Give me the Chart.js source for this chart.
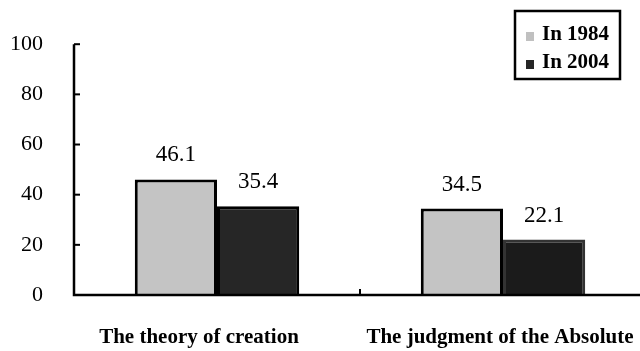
<!DOCTYPE html>
<html>
<head>
<meta charset="utf-8">
<script src="https://cdn.jsdelivr.net/npm/chart.js@4/dist/chart.umd.min.js"></script>
<style>
  html, body { margin: 0; padding: 0; background: #fff; overflow: hidden; }
  #wrap { width: 660px; height: 351px; }
</style>
</head>
<body>
<div id="wrap"><canvas id="beliefChart" width="660" height="351"></canvas></div>
<script>
// values per category
const categories = ['The theory of creation', 'The judgment of the Absolute'];
const in1984 = [46.1, 34.5];
const in2004 = [35.4, 22.1];
const yTicks = [0, 20, 40, 60, 80, 100];

const serif = '"Liberation Serif", "Times New Roman", serif';

// axis lines, inner ticks and the middle category tick
const axesPlugin = {
  id: 'axes',
  afterDatasetsDraw(chart) {
    const { ctx, chartArea: a, scales: { x, y } } = chart;
    ctx.save();
    ctx.strokeStyle = '#000';
    ctx.lineWidth = 2.5;
    ctx.beginPath();
    ctx.moveTo(a.left, a.top);
    ctx.lineTo(a.left, a.bottom);
    ctx.lineTo(a.right, a.bottom);
    ctx.stroke();
    ctx.lineWidth = 2;
    yTicks.forEach(v => {
      const py = y.getPixelForValue(v);
      ctx.beginPath();
      ctx.moveTo(a.left, py);
      ctx.lineTo(a.left + 6, py);
      ctx.stroke();
    });
    const mid = (x.getPixelForValue(0) + x.getPixelForValue(1)) / 2;
    ctx.beginPath();
    ctx.moveTo(mid, a.bottom);
    ctx.lineTo(mid, a.bottom - 6);
    ctx.stroke();

    // category names under the axis, the first one sits a bit left
    ctx.font = 'bold 21px ' + serif;
    ctx.fillStyle = '#000';
    ctx.textAlign = 'center';
    ctx.textBaseline = 'middle';
    const shift = [-18, -3];
    categories.forEach((c, i) => {
      ctx.fillText(c, x.getPixelForValue(i) + shift[i], a.bottom + 43);
    });
    ctx.restore();
  }
};

// numbers over the bars
const valueLabels = {
  id: 'valueLabels',
  afterDatasetsDraw(chart) {
    const { ctx } = chart;
    ctx.save();
    ctx.font = '23px ' + serif;
    ctx.fillStyle = '#000';
    ctx.textAlign = 'center';
    ctx.textBaseline = 'middle';
    chart.data.datasets.forEach((ds, i) => {
      chart.getDatasetMeta(i).data.forEach((bar, j) => {
        ctx.fillText(ds.data[j].toFixed(1), bar.x, bar.y - 24);
      });
    });
    ctx.restore();
  }
};

// boxed legend in the top right corner
const boxLegend = {
  id: 'boxLegend',
  afterDraw(chart) {
    const { ctx } = chart;
    const left = 515, top = 11, w = 105, h = 68;
    ctx.save();
    ctx.strokeStyle = '#000';
    ctx.lineWidth = 2.5;
    ctx.strokeRect(left, top, w, h);
    ctx.font = 'bold 21px ' + serif;
    ctx.textBaseline = 'middle';
    chart.data.datasets.forEach((ds, i) => {
      const cy = top + 24 + i * 28;
      ctx.fillStyle = ds.legendColor;
      ctx.fillRect(left + 11, cy - 3, 8, 9);
      ctx.fillStyle = '#000';
      ctx.fillText(ds.label, left + 27, cy);
    });
    ctx.restore();
  }
};

new Chart(document.getElementById('beliefChart'), {
  type: 'bar',
  data: {
    labels: categories,
    datasets: [
      { label: 'In 1984', data: in1984, backgroundColor: '#c4c4c4', borderColor: '#000',
        borderWidth: 3, legendColor: '#c0c0c0' },
      { label: 'In 2004', data: in2004, backgroundColor: ['#262626', '#1b1b1b'],
        borderColor: ['#000', '#333'], borderWidth: 3, legendColor: '#262626' }
    ]
  },
  options: {
    responsive: false,
    animation: false,
    layout: { padding: { top: 42, right: 14, left: 0, bottom: 0 } },
    datasets: { bar: { categoryPercentage: 0.575, barPercentage: 1 } },
    plugins: { legend: { display: false }, tooltip: { enabled: false } },
    scales: {
      x: {
        grid: { display: false, drawTicks: false },
        border: { display: false },
        ticks: { display: false },
        afterFit(s) { s.height = 56; }
      },
      y: {
        min: 0, max: 100,
        grid: { display: false, drawTicks: false },
        border: { display: false },
        ticks: { stepSize: 20, color: '#000', font: { family: serif, size: 22 }, padding: 31 },
        afterFit(s) { s.width = 74; }
      }
    }
  },
  plugins: [axesPlugin, valueLabels, boxLegend]
});
</script>
</body>
</html>
